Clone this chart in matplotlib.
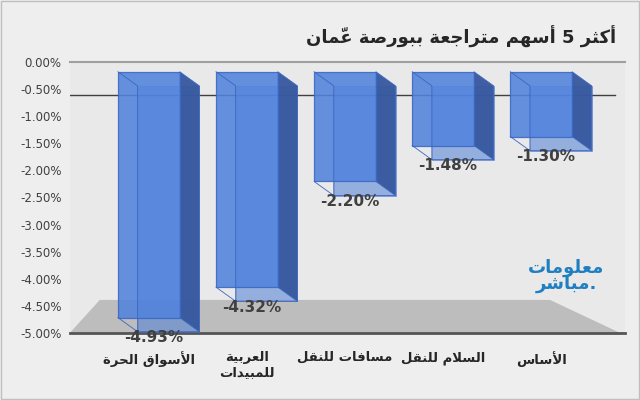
import matplotlib
matplotlib.use("Agg")
import matplotlib.pyplot as plt
from matplotlib.patches import Polygon, Rectangle

# ---- minimal Arabic shaping (presentation forms + RTL) ----
FORMS = {
 'ا':(0xFE8D,0xFE8E,None,None),'أ':(0xFE83,0xFE84,None,None),'ب':(0xFE8F,0xFE90,0xFE91,0xFE92),
 'ة':(0xFE93,0xFE94,None,None),'ت':(0xFE95,0xFE96,0xFE97,0xFE98),'ث':(0xFE99,0xFE9A,0xFE9B,0xFE9C),
 'ج':(0xFE9D,0xFE9E,0xFE9F,0xFEA0),'ح':(0xFEA1,0xFEA2,0xFEA3,0xFEA4),'د':(0xFEA9,0xFEAA,None,None),
 'ر':(0xFEAD,0xFEAE,None,None),'س':(0xFEB1,0xFEB2,0xFEB3,0xFEB4),'ش':(0xFEB5,0xFEB6,0xFEB7,0xFEB8),
 'ص':(0xFEB9,0xFEBA,0xFEBB,0xFEBC),'ع':(0xFEC9,0xFECA,0xFECB,0xFECC),'ف':(0xFED1,0xFED2,0xFED3,0xFED4),
 'ق':(0xFED5,0xFED6,0xFED7,0xFED8),'ك':(0xFED9,0xFEDA,0xFEDB,0xFEDC),'ل':(0xFEDD,0xFEDE,0xFEDF,0xFEE0),
 'م':(0xFEE1,0xFEE2,0xFEE3,0xFEE4),'ن':(0xFEE5,0xFEE6,0xFEE7,0xFEE8),'ه':(0xFEE9,0xFEEA,0xFEEB,0xFEEC),
 'و':(0xFEED,0xFEEE,None,None),'ي':(0xFEF1,0xFEF2,0xFEF3,0xFEF4),
 'لا':(0xFEFB,0xFEFC,None,None),'لأ':(0xFEF7,0xFEF8,None,None),
}
MARKS = {'\u0651'}

def shape(text):
    units = []
    i = 0
    while i < len(text):
        c = text[i]
        if c == 'ل' and i + 1 < len(text) and text[i+1] in 'اأ':
            units.append([c + text[i+1], '']); i += 2; continue
        if c in MARKS and units:
            units[-1][1] += c; i += 1; continue
        units.append([c, '']); i += 1
    out = []
    for k, (u, m) in enumerate(units):
        if u not in FORMS:
            out.append(u + m); continue
        iso, fin, ini, med = FORMS[u]
        prev = units[k-1][0] if k > 0 else None
        nxt = units[k+1][0] if k + 1 < len(units) else None
        pj = prev in FORMS and FORMS[prev][2] is not None
        nj = nxt in FORMS and ini is not None
        if pj and nj: g = med
        elif pj: g = fin
        elif nj: g = ini
        else: g = iso
        out.append(chr(g) + m)
    return ''.join(reversed(out))

# ---- data ----
categories = ["الأسواق الحرة", "العربية\nللمبيدات", "مسافات للنقل", "السلام للنقل", "الأساس"]
values = [-4.93, -4.32, -2.20, -1.48, -1.30]
yticks = [0, -0.5, -1, -1.5, -2, -2.5, -3, -3.5, -4, -4.5, -5]
title = "أكثر 5 أسهم متراجعة ببورصة عمّان"

fig = plt.figure(figsize=(6.4, 4.0), dpi=100)
fig.patch.set_facecolor('#eeeeee')
fig.add_artist(Rectangle((0.002, 0.002), 0.996, 0.996, transform=fig.transFigure,
                         fill=False, ec='#bfbfbf', lw=1))
ax = fig.add_axes([0.109, 0.1675, 0.868, 0.6775])
ax.set_facecolor('#e9e9e9')
ax.set_xlim(-0.806, 4.857)
ax.set_ylim(-5.0, 0.0)

# 3D projection of the chart
top, k = -0.18, 0.92          # front-face top and vertical scale
w, dx, dy = 0.63, 0.2, -0.26  # bar width, depth offsets
back0 = -0.61

ax.plot([-0.806, 4.857], [0, 0], color='#a0a0a0', lw=1.5, zorder=1, clip_on=False)
ax.add_patch(Polygon([(-0.806, -5.0), (4.806, -5.0), (4.09, -4.39), (-0.5, -4.39)],
                     closed=True, fc='#bdbdbd', ec='none', zorder=1))
ax.plot([-0.806, 4.857], [-5.0, -5.0], color='#555555', lw=2, zorder=2, clip_on=False)
ax.plot([-0.806, 4.75], [back0, back0], color='#404040', lw=1.0, zorder=2)

edge = '#3a66c4'
for x, v in enumerate(values):
    l, r = x - w/2, x + w/2
    b = top + v * k
    ax.add_patch(Polygon([(l + dx, top + dy), (r + dx, top + dy), (r + dx, b + dy), (l + dx, b + dy)],
                         fc='#4f7fd6', ec=edge, lw=0.6, alpha=0.55, zorder=3))
    ax.add_patch(Polygon([(r, top), (r + dx, top + dy), (r + dx, b + dy), (r, b)],
                         fc='#36589e', ec=edge, lw=0.6, alpha=0.95, zorder=4))
    ax.add_patch(Polygon([(l, top), (r, top), (r, b), (l, b)],
                         fc='#5283dc', ec=edge, lw=0.9, alpha=0.88, zorder=5))
    ax.plot([l, l + dx, r + dx], [b, b + dy, b + dy], color=edge, lw=0.6, zorder=6)
    ax.plot([l, l + dx, l + dx], [top, top + dy, b + dy], color=edge, lw=0.6, zorder=6)
    ax.text(x + 0.05, b - 0.37, f"{v:.2f}%", ha='center', va='center',
            fontsize=11, fontweight='bold', color='#404040', zorder=7, clip_on=False)

ax.set_yticks(yticks)
ax.set_yticklabels([f"{t:.2f}%" for t in yticks], fontsize=8.5, color='#404040')
ax.set_xticks(range(len(categories)))
ax.set_xticklabels(['\n'.join(shape(p) for p in c.split('\n')) for c in categories],
                   fontsize=9.5, fontweight='bold', color='#262626')
ax.tick_params(axis='y', length=0, pad=6)
ax.tick_params(axis='x', length=0, pad=13)
for s in ax.spines.values():
    s.set_visible(False)

fig.text(0.962, 0.908, shape(title), ha='right', va='center', fontsize=13,
         fontweight='bold', color='#262626')
fig.text(0.885, 0.31, shape("معلومات") + "\n" + shape("مباشر") + ".", ha='center', va='center',
         fontsize=13, fontweight='bold', color='#1f7fc0', linespacing=0.85)

fig.savefig("out.png", dpi=100, facecolor=fig.get_facecolor())
